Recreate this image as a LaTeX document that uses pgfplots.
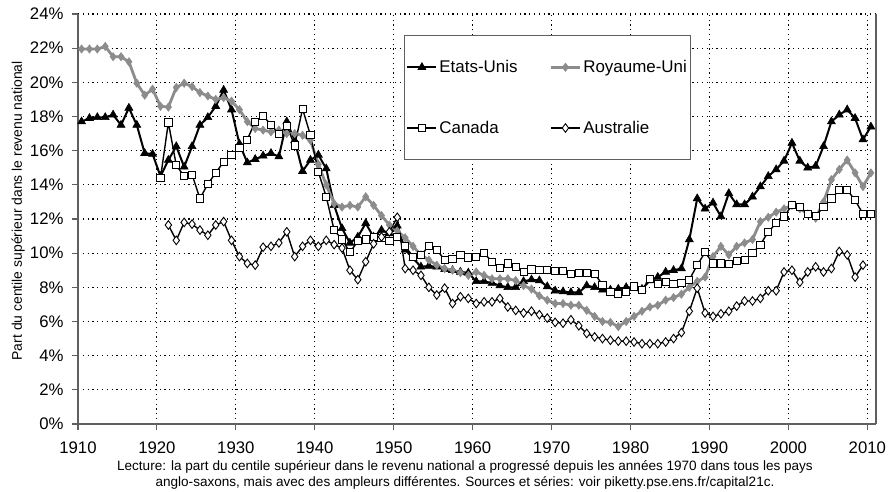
\documentclass[border=0pt]{standalone}
\usepackage{pgfplots}
\pgfplotsset{compat=1.18}
\usepackage{pgfplotstable}
\usepackage{fontspec}
\setmainfont{Liberation Sans}
\definecolor{ukgray}{RGB}{140,140,140}
\definecolor{axgray}{RGB}{95,95,95}

\pgfplotstableread[row sep=\\]{
year v\\
1910 17.7\\ 1911 17.9\\ 1912 17.95\\ 1913 17.95\\ 1914 18.1\\ 1915 17.5\\ 1916 18.5\\ 1917 17.5\\ 1918 15.85\\ 1919 15.8\\
1920 14.5\\ 1921 15.45\\ 1922 16.25\\ 1923 15.05\\ 1924 16.25\\ 1925 17.5\\ 1926 17.95\\ 1927 18.6\\ 1928 19.55\\ 1929 18.4\\
1930 16.4\\ 1931 15.3\\ 1932 15.5\\ 1933 15.7\\ 1934 15.85\\ 1935 15.65\\ 1936 17.7\\ 1937 16.6\\ 1938 14.8\\ 1939 15.45\\
1940 15.75\\ 1941 14.95\\ 1942 12.8\\ 1943 11.45\\ 1944 10.6\\ 1945 10.95\\ 1946 11.75\\ 1947 10.95\\ 1948 11.35\\ 1949 11.15\\
1950 11.6\\ 1951 10.2\\ 1952 9.7\\ 1953 9.2\\ 1954 9.25\\ 1955 9.2\\ 1956 9.05\\ 1957 9.0\\ 1958 8.9\\ 1959 8.85\\
1960 8.35\\ 1961 8.35\\ 1962 8.25\\ 1963 8.1\\ 1964 8.0\\ 1965 8.0\\ 1966 8.35\\ 1967 8.45\\ 1968 8.4\\ 1969 8.05\\
1970 7.8\\ 1971 7.75\\ 1972 7.7\\ 1973 7.7\\ 1974 8.1\\ 1975 8.0\\ 1976 7.85\\ 1977 7.85\\ 1978 7.9\\ 1979 8.0\\
1980 8.0\\ 1981 7.9\\ 1982 8.4\\ 1983 8.6\\ 1984 8.9\\ 1985 9.0\\ 1986 9.1\\ 1987 10.8\\ 1988 13.2\\ 1989 12.6\\
1990 12.95\\ 1991 12.15\\ 1992 13.5\\ 1993 12.85\\ 1994 12.85\\ 1995 13.3\\ 1996 13.9\\ 1997 14.5\\ 1998 14.9\\ 1999 15.4\\
2000 16.45\\ 2001 15.4\\ 2002 15.0\\ 2003 15.1\\ 2004 16.25\\ 2005 17.7\\ 2006 18.1\\ 2007 18.4\\ 2008 17.9\\ 2009 16.65\\
2010 17.4\\
}\tUS

\pgfplotstableread[row sep=\\]{
year v\\
1910 21.95\\ 1911 21.95\\ 1912 21.95\\ 1913 22.1\\ 1914 21.5\\ 1915 21.5\\ 1916 21.2\\ 1917 19.95\\ 1918 19.25\\ 1919 19.6\\
1920 18.6\\ 1921 18.55\\ 1922 19.7\\ 1923 19.95\\ 1924 19.75\\ 1925 19.4\\ 1926 19.2\\ 1927 19.0\\ 1928 19.1\\ 1929 18.9\\
1930 18.4\\ 1931 17.7\\ 1932 17.3\\ 1933 17.2\\ 1934 17.1\\ 1935 17.2\\ 1936 17.0\\ 1937 17.0\\ 1938 16.9\\ 1939 16.6\\
1940 15.2\\ 1941 14.0\\ 1942 12.9\\ 1943 12.7\\ 1944 12.8\\ 1945 12.7\\ 1946 13.3\\ 1947 12.8\\ 1948 12.2\\ 1949 11.65\\
1950 11.3\\ 1951 10.9\\ 1952 10.4\\ 1953 9.9\\ 1954 9.6\\ 1955 9.3\\ 1956 9.1\\ 1957 9.0\\ 1958 8.85\\ 1959 8.7\\
1960 8.9\\ 1961 8.7\\ 1962 8.5\\ 1963 8.5\\ 1964 8.5\\ 1965 8.4\\ 1966 8.1\\ 1967 7.9\\ 1968 7.5\\ 1969 7.25\\
1970 7.05\\ 1971 7.05\\ 1972 6.95\\ 1973 6.95\\ 1974 6.65\\ 1975 6.3\\ 1976 6.0\\ 1977 5.95\\ 1978 5.7\\ 1979 6.0\\
1980 6.3\\ 1981 6.6\\ 1982 6.85\\ 1983 6.95\\ 1984 7.25\\ 1985 7.4\\ 1986 7.6\\ 1987 8.0\\ 1988 8.35\\ 1989 8.6\\
1990 9.8\\ 1991 10.4\\ 1992 9.9\\ 1993 10.4\\ 1994 10.6\\ 1995 10.8\\ 1996 11.85\\ 1997 12.1\\ 1998 12.4\\ 1999 12.6\\
2000 12.8\\ 2001 12.6\\ 2002 12.3\\ 2003 12.05\\ 2004 13.0\\ 2005 14.3\\ 2006 14.9\\ 2007 15.45\\ 2008 14.7\\ 2009 13.9\\
2010 14.7\\
}\tUK

\pgfplotstableread[row sep=\\]{
year v\\
1920 14.4\\ 1921 17.65\\ 1922 15.15\\ 1923 14.5\\ 1924 14.6\\ 1925 13.2\\ 1926 14.05\\ 1927 14.7\\ 1928 15.35\\ 1929 15.75\\
1930 16.15\\ 1931 16.65\\ 1932 17.7\\ 1933 18.05\\ 1934 17.5\\ 1935 17.0\\ 1936 17.45\\ 1937 16.3\\ 1938 18.45\\ 1939 16.9\\
1940 14.75\\ 1941 13.3\\ 1942 11.35\\ 1943 10.8\\ 1944 10.05\\ 1945 10.7\\ 1946 10.8\\ 1947 10.95\\ 1948 10.9\\ 1949 10.7\\
1950 10.95\\ 1951 10.4\\ 1952 9.8\\ 1953 9.9\\ 1954 10.4\\ 1955 10.2\\ 1956 9.6\\ 1957 9.65\\ 1958 9.9\\ 1959 9.75\\
1960 9.8\\ 1961 10.0\\ 1962 9.5\\ 1963 9.15\\ 1964 9.4\\ 1965 9.2\\ 1966 8.9\\ 1967 9.05\\ 1968 9.0\\ 1969 9.0\\
1970 8.95\\ 1971 8.95\\ 1972 8.8\\ 1973 8.85\\ 1974 8.85\\ 1975 8.8\\ 1976 8.15\\ 1977 7.75\\ 1978 7.6\\ 1979 7.75\\
1980 8.05\\ 1981 7.85\\ 1982 8.5\\ 1983 8.2\\ 1984 8.3\\ 1985 8.2\\ 1986 8.25\\ 1987 8.45\\ 1988 9.3\\ 1989 10.05\\
1990 9.4\\ 1991 9.4\\ 1992 9.35\\ 1993 9.55\\ 1994 9.6\\ 1995 10.0\\ 1996 10.5\\ 1997 11.25\\ 1998 11.75\\ 1999 12.15\\
2000 12.8\\ 2001 12.7\\ 2002 12.3\\ 2003 12.2\\ 2004 12.7\\ 2005 13.2\\ 2006 13.7\\ 2007 13.7\\ 2008 13.1\\ 2009 12.3\\
2010 12.3\\
}\tCA

\pgfplotstableread[row sep=\\]{
year v\\
1921 11.65\\ 1922 10.75\\ 1923 11.8\\ 1924 11.7\\ 1925 11.35\\ 1926 11.05\\ 1927 11.65\\ 1928 11.85\\ 1929 10.75\\
1930 9.8\\ 1931 9.4\\ 1932 9.3\\ 1933 10.35\\ 1934 10.4\\ 1935 10.6\\ 1936 11.25\\ 1937 9.8\\ 1938 10.4\\ 1939 10.75\\
1940 10.4\\ 1941 10.75\\ 1942 10.5\\ 1943 10.3\\ 1944 9.0\\ 1945 8.45\\ 1946 9.5\\ 1947 10.55\\ 1948 10.95\\ 1949 11.25\\
1950 12.1\\ 1951 9.1\\ 1952 9.0\\ 1953 8.7\\ 1954 8.0\\ 1955 7.55\\ 1956 7.95\\ 1957 7.05\\ 1958 7.45\\ 1959 7.35\\
1960 7.05\\ 1961 7.15\\ 1962 7.15\\ 1963 7.35\\ 1964 6.85\\ 1965 6.65\\ 1966 6.5\\ 1967 6.6\\ 1968 6.4\\ 1969 6.2\\
1970 5.95\\ 1971 5.9\\ 1972 6.1\\ 1973 5.75\\ 1974 5.3\\ 1975 5.1\\ 1976 5.0\\ 1977 4.9\\ 1978 4.85\\ 1979 4.85\\
1980 4.8\\ 1981 4.7\\ 1982 4.7\\ 1983 4.7\\ 1984 4.8\\ 1985 5.0\\ 1986 5.35\\ 1987 6.6\\ 1988 7.95\\ 1989 6.5\\
1990 6.3\\ 1991 6.45\\ 1992 6.6\\ 1993 6.9\\ 1994 7.2\\ 1995 7.2\\ 1996 7.35\\ 1997 7.8\\ 1998 7.8\\ 1999 8.9\\
2000 9.0\\ 2001 8.3\\ 2002 8.9\\ 2003 9.2\\ 2004 8.9\\ 2005 9.1\\ 2006 10.1\\ 2007 9.9\\ 2008 8.6\\ 2009 9.3\\
}\tAU

\begin{document}
\begin{tikzpicture}
\useasboundingbox (-78bp,-68bp) rectangle (814bp,424bp);
\begin{axis}[
  at={(0,0)}, anchor=south west,
  scale only axis, width=798bp, height=410bp,
  xmin=1910, xmax=2011.1, ymin=0, ymax=24,
  xtick={1910,1920,...,2010}, ytick={0,2,...,24},
  /pgf/number format/assume math mode=true,
  /pgf/number format/1000 sep={},
  yticklabel={\pgfmathprintnumber{\tick}\%},
  axis x line*=bottom, axis y line*=left,
  axis line style={-, draw=axgray, line width=1.3bp},
  tick align=outside, major tick length=6bp,
  tick style={draw=axgray, line width=1.1bp},
  grid=major,
  major grid style={draw=black, line width=1.1bp, dash pattern=on 1.2bp off 3.6bp},
  ticklabel style={font=\fontsize{16.8}{19}\selectfont},
  xticklabel style={yshift=-8bp},
  yticklabel style={xshift=-5bp},
  ylabel={Part du centile supérieur dans le revenu national},
  ylabel style={font=\fontsize{14}{16}\selectfont, at={(axis description cs:-0.075,0.52)}, anchor=center},
  clip=false,
  legend columns=2,
  legend cell align=left,
  legend image code/.code={\draw[mark repeat=2,mark phase=2] plot coordinates {(0bp,0bp) (14.5bp,0bp) (29bp,0bp)};},
  legend style={at={(axis description cs:0.4085,0.949)}, anchor=north west,
    draw=axgray, line width=0.9bp, fill=white,
    inner xsep=2bp, inner ysep=23bp, row sep=43bp,
    font=\fontsize{17}{20}\selectfont,
    nodes={inner sep=2bp},
    /tikz/every even column/.append style={column sep=30bp}},
]
\addplot[black, line width=2bp, mark=triangle*, mark size=4.6bp, mark options={fill=black, line width=0.6bp}]
  table[x expr=\thisrow{year}+0.45, y=v]{\tUS};
\addlegendentry{Etats-Unis}
\addplot[ukgray, line width=2.8bp, mark=diamond*, mark size=4.2bp, mark options={fill=ukgray, draw=ukgray, line width=0.5bp}]
  table[x expr=\thisrow{year}+0.45, y=v]{\tUK};
\addlegendentry{Royaume-Uni}
\addplot[black, line width=1.4bp, mark=square*, mark size=3.6bp, mark options={fill=white, draw=black, line width=0.9bp}]
  table[x expr=\thisrow{year}+0.45, y=v]{\tCA};
\addlegendentry{Canada}
\addplot[black, line width=1.4bp, mark=diamond*, mark size=4.3bp, mark options={fill=white, draw=black, line width=0.9bp}]
  table[x expr=\thisrow{year}+0.45, y=v]{\tAU};
\addlegendentry{Australie}
\draw[axgray, line width=1.3bp] (rel axis cs:1,0) -- (rel axis cs:1,1);
\end{axis}
\node[align=center, font=\fontsize{13.6}{16.5}\selectfont] at (387bp,-51bp)
  {Lecture: la part du centile supérieur dans le revenu national a progressé depuis les années 1970 dans tous les pays\\
   anglo-saxons, mais avec des ampleurs différentes. Sources et séries: voir piketty.pse.ens.fr/capital21c.};
\end{tikzpicture}
\end{document}
